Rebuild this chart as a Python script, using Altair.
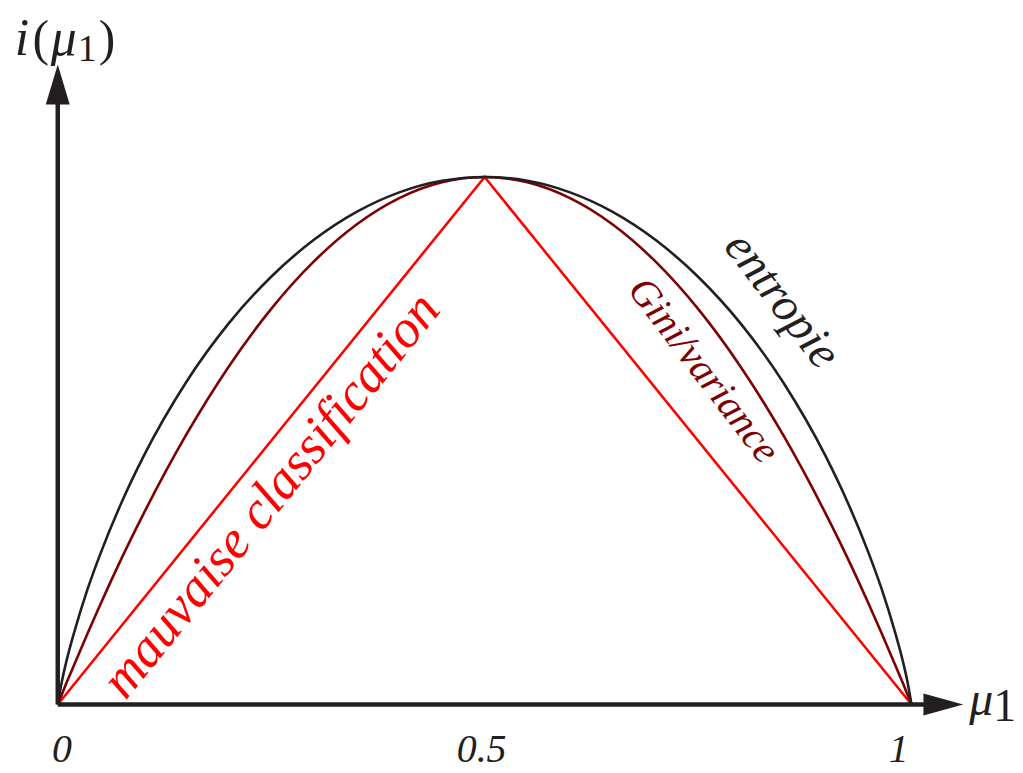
import altair as alt
import pandas as pd

# ---- curve values (normalised impurity, peak = 1 at mu1 = 0.5)
p_grid = [0.0, 0.005, 0.01, 0.02, 0.035, 0.05, 0.075, 0.1, 0.15, 0.2, 0.25, 0.3, 0.35, 0.4, 0.45,
          0.5, 0.55, 0.6, 0.65, 0.7, 0.75, 0.8, 0.85, 0.9, 0.925, 0.95, 0.965, 0.98, 0.99, 0.995, 1.0]
entropy_vals = [0.0, 0.045, 0.081, 0.141, 0.219, 0.286, 0.384, 0.469, 0.610, 0.722, 0.811, 0.881, 0.934, 0.971, 0.993,
                1.0, 0.993, 0.971, 0.934, 0.881, 0.811, 0.722, 0.610, 0.469, 0.384, 0.286, 0.219, 0.141, 0.081, 0.045, 0.0]
gini_vals = [0.0, 0.020, 0.040, 0.078, 0.135, 0.190, 0.278, 0.360, 0.510, 0.640, 0.750, 0.840, 0.910, 0.960, 0.990,
             1.0, 0.990, 0.960, 0.910, 0.840, 0.750, 0.640, 0.510, 0.360, 0.278, 0.190, 0.135, 0.078, 0.040, 0.020, 0.0]
miscl_p = [0.0, 0.5, 1.0]
miscl_vals = [0.0, 1.0, 0.0]

tick_labels = ["0", "0.5", "1"]
tick_label_x = [0.005, 0.4965, 0.985]

# axis extents (data units)
x_axis_end = 1.02
y_axis_end = 1.145
x_arrow_tip = 1.0606
y_arrow_tip = 1.2132

BLACK = "#231f20"
DARK_RED = "#7d0000"
RED = "#ff0000"
FONT = "Liberation Serif, Times New Roman, serif"

xs = alt.Scale(domain=[-0.05828, 1.12121], zero=False, nice=False)
ys = alt.Scale(domain=[-0.12642, 1.31698], zero=False, nice=False)

def X(f="x"):
    return alt.X(f"{f}:Q", scale=xs, axis=None)

def Y(f="y"):
    return alt.Y(f"{f}:Q", scale=ys, axis=None)

curves = pd.DataFrame({"x": p_grid, "ent": entropy_vals, "gini": gini_vals})
mis = pd.DataFrame({"x": miscl_p, "y": miscl_vals})

entropy_line = alt.Chart(curves).mark_line(color=BLACK, strokeWidth=2.6, interpolate="monotone").encode(
    x=X(), y=Y("ent"), order="x:Q")
gini_line = alt.Chart(curves).mark_line(color=DARK_RED, strokeWidth=2.6, interpolate="monotone").encode(
    x=X(), y=Y("gini"), order="x:Q")
mis_line = alt.Chart(mis).mark_line(color=RED, strokeWidth=2.6).encode(x=X(), y=Y())

axes_df = pd.DataFrame({"x": [0.0, 0.0], "y": [0.0, 0.0], "x2": [x_axis_end, 0.0], "y2": [0.0, y_axis_end]})
axes = alt.Chart(axes_df).mark_rule(color=BLACK, strokeWidth=4.5, strokeCap="butt").encode(
    x=X(), y=Y(), x2="x2:Q", y2="y2:Q")

y_head = alt.Chart(pd.DataFrame({"x": [0.0], "y": [y_arrow_tip]})).mark_point(
    shape="M0,0 L0.6,2 L-0.6,2 Z", size=1600, filled=True, opacity=1, color=BLACK, strokeWidth=0
).encode(x=X(), y=Y())
x_head = alt.Chart(pd.DataFrame({"x": [x_arrow_tip], "y": [0.0]})).mark_point(
    shape="M0,0 L-2,-0.55 L-2,0.55 Z", size=1600, filled=True, opacity=1, color=BLACK, strokeWidth=0
).encode(x=X(), y=Y())

italic_labels = pd.DataFrame({
    "text": ["mauvaise classification", "Gini/variance", "entropie"] + tick_labels + ["i", "μ", "μ"],
    "x": [0.2647, 0.7453, 0.835] + tick_label_x + [-0.042, 0.007, 1.0816],
    "y": [0.3768, 0.6195, 0.7497, -0.1094, -0.1094, -0.1094, 1.2320, 1.2320, -0.0208],
    "angle": [309, 52.5, 52.5, 0, 0, 0, 0, 0, 0],
    "size": [54, 40, 48, 40, 40, 40, 52, 52, 48],
    "color": [RED, DARK_RED, BLACK, BLACK, BLACK, BLACK, BLACK, BLACK, BLACK],
})
normal_labels = pd.DataFrame({
    "text": ["(", "1", ")", "1"],
    "x": [-0.0198, 0.0344, 0.0577, 1.109],
    "y": [1.2320, 1.2207, 1.2320, -0.0321],
    "size": [50, 38, 50, 46],
})

it_text = alt.Chart(italic_labels).mark_text(
    font=FONT, fontStyle="italic", align="center", baseline="alphabetic"
).encode(
    x=X(), y=Y(), text="text:N",
    angle=alt.Angle("angle:Q", scale=None),
    size=alt.Size("size:Q", scale=None),
    color=alt.Color("color:N", scale=None),
)
nm_text = alt.Chart(normal_labels).mark_text(
    font=FONT, align="center", baseline="alphabetic", color=BLACK
).encode(
    x=X(), y=Y(), text="text:N",
    size=alt.Size("size:Q", scale=None),
)

chart = alt.layer(
    mis_line, gini_line, entropy_line, axes, y_head, x_head, it_text, nm_text
).properties(
    width=1012, height=765, padding=0, autosize=alt.AutoSizeParams(type="none"), background="white"
).configure_view(stroke=None)

chart.save("out.html", embed_options={"renderer": "svg", "actions": False})
